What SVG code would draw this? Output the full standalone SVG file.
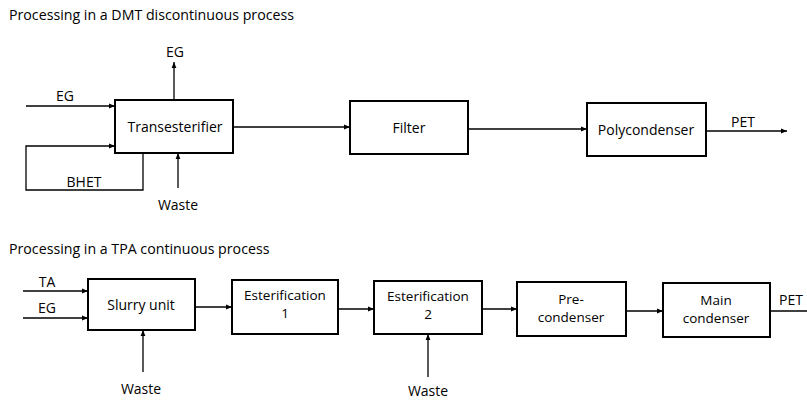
<svg xmlns="http://www.w3.org/2000/svg" width="807" height="400" viewBox="0 0 807 400">
<defs>
<marker id="ah" viewBox="0 0 10 10" refX="10" refY="5" markerWidth="8" markerHeight="6" markerUnits="userSpaceOnUse" orient="auto">
<path d="M0,1 L10,5 L0,9 Z" fill="#000"/>
</marker>
</defs>
<style>
text{font-family:"Open Sans","Noto Sans",sans-serif;font-size:14px;fill:#000}
.t{font-size:14.2px}
.c{text-anchor:middle}
.m{font-size:13.5px}
.box{fill:#fff;stroke:#000;stroke-width:2}
.ln{fill:none;stroke:#000;stroke-width:1.3}
.ar{marker-end:url(#ah)}
</style>
<rect width="807" height="400" fill="#fff"/>
<text class="t" x="9" y="20">Processing in a DMT discontinuous process</text>
<text class="t" x="9" y="254">Processing in a TPA continuous process</text>
<g id="connectors">
<line class="ln ar" x1="26" y1="106" x2="115" y2="106"/>
<polyline class="ln ar" points="143,153 143,190 26,190 26,146 115,146"/>
<line class="ln ar" x1="174" y1="100" x2="174" y2="62"/>
<line class="ln ar" x1="178" y1="188" x2="178" y2="153"/>
<line class="ln ar" x1="233" y1="127" x2="350" y2="127"/>
<line class="ln ar" x1="468" y1="129" x2="587" y2="129"/>
<line class="ln ar" x1="706" y1="131" x2="787" y2="131"/>
<line class="ln ar" x1="23" y1="291" x2="88" y2="291"/>
<line class="ln ar" x1="23" y1="318" x2="88" y2="318"/>
<line class="ln ar" x1="143" y1="372" x2="143" y2="330"/>
<line class="ln ar" x1="195" y1="307" x2="232" y2="307"/>
<line class="ln ar" x1="338" y1="309" x2="374" y2="309"/>
<line class="ln ar" x1="428" y1="377" x2="428" y2="334"/>
<line class="ln ar" x1="482" y1="309" x2="517" y2="309"/>
<line class="ln ar" x1="626" y1="311" x2="663" y2="311"/>
<line class="ln" x1="770" y1="311" x2="807" y2="311"/>
<text x="65" y="101" class="c">EG</text>
<text x="84" y="187" class="c">BHET</text>
<text x="175" y="57" class="c">EG</text>
<text x="178" y="210" class="c">Waste</text>
<text x="743" y="127" class="c">PET</text>
<text x="47" y="287" class="c">TA</text>
<text x="47" y="313" class="c">EG</text>
<text x="141" y="394" class="c">Waste</text>
<text x="428" y="396" class="c">Waste</text>
<text x="791" y="305" class="c">PET</text>
</g>
<g id="transesterifier">
<rect class="box" x="115" y="100" width="118" height="53"/>
<text class="c" x="175" y="132">Transesterifier</text>
</g>
<g id="filter">
<rect class="box" x="350" y="101" width="118" height="53"/>
<text class="c" x="409" y="133">Filter</text>
</g>
<g id="polycondenser">
<rect class="box" x="587" y="103" width="119" height="53"/>
<text class="c" x="646" y="135">Polycondenser</text>
</g>
<g id="slurry">
<rect class="box" x="88" y="279" width="107" height="51"/>
<text class="c" x="141" y="310">Slurry unit</text>
</g>
<g id="est1">
<rect class="box" x="232" y="280" width="106" height="54"/>
<text class="c m" x="285" y="300">Esterification</text>
<text class="c m" x="285" y="318">1</text>
</g>
<g id="est2">
<rect class="box" x="374" y="281" width="108" height="53"/>
<text class="c m" x="428" y="301">Esterification</text>
<text class="c m" x="428" y="319">2</text>
</g>
<g id="precondenser">
<rect class="box" x="517" y="282" width="109" height="54"/>
<text class="c m" x="571" y="304">Pre-</text>
<text class="c m" x="571" y="322">condenser</text>
</g>
<g id="maincondenser">
<rect class="box" x="663" y="283" width="107" height="54"/>
<text class="c m" x="716" y="305">Main</text>
<text class="c m" x="716" y="323">condenser</text>
</g>
</svg>
